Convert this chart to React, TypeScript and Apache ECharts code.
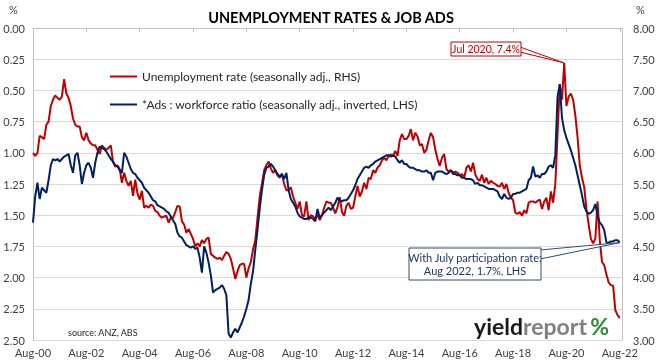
import React, { useEffect, useRef } from 'react';
import * as echarts from 'echarts';

const MONTH_NAMES = ['Jan', 'Feb', 'Mar', 'Apr', 'May', 'Jun', 'Jul', 'Aug', 'Sep', 'Oct', 'Nov', 'Dec'];
const START_YEAR = 2000;
const START_MONTH = 7; // August

// Unemployment rate, %, seasonally adjusted (RHS), monthly Aug-00 .. Aug-22
const unemploymentRate = [
  6.0, 5.95, 6.0, 6.27, 6.25, 6.22, 6.45, 6.5, 6.75, 6.85, 6.92, 6.88, // Aug-00
  6.85, 6.9, 7.18, 6.95, 6.88, 6.75, 6.55, 6.45, 6.42, 6.42, 6.25, 6.2, // Aug-01
  6.32, 6.2, 6.15, 6.12, 6.12, 6.05, 5.98, 6.12, 6.08, 6.05, 6.08, 6.12, // Aug-02
  5.85, 5.78, 5.8, 5.74, 5.52, 5.68, 5.55, 5.47, 5.55, 5.31, 5.57, 5.35, // Aug-03
  5.25, 5.39, 5.12, 5.15, 5.12, 5.17, 5.15, 5.07, 5.05, 4.99, 4.96, 4.98, // Aug-04
  4.99, 4.88, 4.96, 4.96, 5.05, 5.15, 5.14, 4.9, 4.85, 4.72, 4.78, 4.7, // Aug-05
  4.62, 4.5, 4.55, 4.5, 4.6, 4.55, 4.62, 4.64, 4.38, 4.35, 4.32, 4.3, // Aug-06
  4.32, 4.28, 4.35, 4.41, 4.38, 4.3, 4.15, 3.98, 4.1, 4.2, 4.22, 4.22, // Aug-07
  4.0, 4.15, 4.25, 4.45, 4.6, 4.95, 5.3, 5.5, 5.72, 5.8, 5.86, 5.75, // Aug-08
  5.68, 5.72, 5.64, 5.6, 5.66, 5.5, 5.4, 5.4, 5.45, 5.3, 5.2, 5.1, // Aug-09
  5.22, 5.0, 4.98, 5.22, 4.92, 5.0, 4.98, 4.94, 5.01, 4.92, 5.0, 5.12, // Aug-10
  5.22, 5.2, 5.2, 5.12, 5.03, 5.13, 5.29, 5.05, 4.99, 5.15, 5.2, 5.1, // Aug-11
  5.12, 5.3, 5.47, 5.3, 5.38, 5.52, 5.42, 5.6, 5.58, 5.72, 5.68, 5.76, // Aug-12
  5.8, 5.88, 5.92, 5.88, 5.95, 5.97, 5.95, 6.03, 5.95, 6.2, 6.3, 6.22, // Aug-13
  6.22, 6.27, 6.38, 6.2, 6.32, 6.26, 6.12, 6.14, 6.0, 6.05, 6.2, 6.32, // Aug-14
  6.25, 6.05, 5.9, 5.79, 5.92, 5.98, 5.74, 5.7, 5.72, 5.68, 5.7, 5.68, // Aug-15
  5.64, 5.66, 5.6, 5.76, 5.8, 5.7, 5.84, 5.65, 5.58, 5.55, 5.65, 5.52, // Aug-16
  5.6, 5.5, 5.55, 5.52, 5.5, 5.47, 5.46, 5.52, 5.42, 5.5, 5.36, 5.28, // Aug-17
  5.24, 5.04, 5.02, 5.05, 4.99, 5.08, 5.03, 5.2, 5.22, 5.22, 5.2, 5.23, // Aug-18
  5.25, 5.1, 5.22, 5.28, 5.08, 5.38, 5.2, 5.5, 6.3, 7.1, 6.85, 7.44, // Aug-19
  6.75, 6.9, 6.95, 6.85, 6.6, 6.25, 5.8, 5.6, 5.45, 5.1, 4.85, 4.62, // Aug-20
  4.55, 4.62, 5.22, 4.6, 4.25, 4.2, 4.05, 3.92, 3.88, 3.87, 3.48, 3.4, // Aug-21
  3.35, // Aug-22
];

// Job ads : workforce ratio, %, seasonally adjusted (LHS, inverted)
const adsRatio = [
  1.56, 1.35, 1.24, 1.37, 1.28, 1.3, 1.32, 1.22, 1.1, 1.05, 1.06, 1.05, // Aug-00
  1.07, 1.05, 1.03, 1.02, 1.01, 1.1, 1.16, 1.02, 1.0, 1.1, 1.25, 1.16, // Aug-01
  1.1, 1.08, 1.12, 1.2, 1.08, 1.0, 0.95, 0.96, 0.97, 0.99, 1.02, 1.05, // Aug-02
  1.07, 1.1, 1.11, 1.14, 1.16, 1.0, 1.03, 1.08, 1.13, 1.16, 1.17, 1.2, // Aug-03
  1.22, 1.24, 1.28, 1.3, 1.32, 1.35, 1.38, 1.39, 1.42, 1.43, 1.44, 1.45, // Aug-04
  1.47, 1.48, 1.51, 1.54, 1.57, 1.64, 1.67, 1.68, 1.71, 1.74, 1.75, 1.76, // Aug-05
  1.75, 1.77, 1.76, 1.84, 1.96, 1.75, 1.8, 1.88, 1.98, 2.12, 2.1, 2.09, // Aug-06
  2.08, 2.06, 2.09, 2.14, 2.45, 2.48, 2.44, 2.41, 2.44, 2.4, 2.36, 2.31, // Aug-07
  2.25, 2.18, 2.05, 1.95, 1.78, 1.62, 1.45, 1.3, 1.18, 1.12, 1.11, 1.09, // Aug-08
  1.11, 1.14, 1.17, 1.19, 1.17, 1.21, 1.16, 1.3, 1.37, 1.4, 1.43, 1.48, // Aug-09
  1.51, 1.52, 1.53, 1.53, 1.52, 1.52, 1.53, 1.55, 1.45, 1.52, 1.5, 1.48, // Aug-10
  1.46, 1.44, 1.46, 1.43, 1.4, 1.36, 1.38, 1.39, 1.38, 1.38, 1.36, 1.33, // Aug-11
  1.3, 1.26, 1.21, 1.18, 1.15, 1.12, 1.11, 1.12, 1.1, 1.09, 1.07, 1.06, // Aug-12
  1.05, 1.04, 1.03, 1.02, 1.02, 1.03, 1.02, 1.03, 1.06, 1.08, 1.06, 1.09, // Aug-13
  1.09, 1.11, 1.12, 1.12, 1.13, 1.14, 1.14, 1.15, 1.15, 1.14, 1.16, 1.16, // Aug-14
  1.22, 1.16, 1.15, 1.15, 1.15, 1.16, 1.17, 1.16, 1.14, 1.17, 1.17, 1.18, // Aug-15
  1.18, 1.2, 1.2, 1.21, 1.21, 1.21, 1.22, 1.25, 1.24, 1.26, 1.26, 1.27, // Aug-16
  1.28, 1.29, 1.29, 1.29, 1.3, 1.31, 1.35, 1.37, 1.33, 1.36, 1.37, 1.36, // Aug-17
  1.33, 1.33, 1.32, 1.32, 1.31, 1.3, 1.29, 1.22, 1.2, 1.11, 1.19, 1.18, // Aug-18
  1.2, 1.17, 1.17, 1.15, 1.11, 1.1, 1.12, 1.02, 0.55, 0.45, 0.72, 0.82, // Aug-19
  0.88, 0.93, 0.98, 1.04, 1.1, 1.18, 1.26, 1.34, 1.43, 1.47, 1.49, 1.48, // Aug-20
  1.46, 1.41, 1.5, 1.56, 1.58, 1.62, 1.72, 1.72, 1.71, 1.71, 1.7, 1.7, // Aug-21
  1.72, // Aug-22
];

const leftAxisRange = [0, 2.5, 0.25];
const rightAxisRange = [3, 8, 0.5];

const TITLE = 'UNEMPLOYMENT RATES & JOB ADS';
const RED_NAME = 'Unemployment rate (seasonally adj., RHS)';
const BLUE_NAME = '*Ads : workforce ratio (seasonally adj., inverted, LHS)';
const PEAK_LABEL = 'Jul 2020, 7.4%';
const LAST_LABEL = ['With July participation rate:', 'Aug 2022, 1.7%, LHS'];
const SOURCE = 'source: ANZ, ABS';

// one extra month of axis room after the last observation
const categories = Array.from({ length: unemploymentRate.length + 1 }, (_, i) => {
  const m = (START_MONTH + i) % 12;
  const y = START_YEAR + Math.floor((START_MONTH + i) / 12);
  return `${MONTH_NAMES[m]}-${String(y % 100).padStart(2, '0')}`;
});

const RED = '#C00000';
const BLUE = '#002060';
const FONT = 'Lato, "Liberation Sans", sans-serif';

export default function App() {
  const ref = useRef<HTMLDivElement>(null);

  useEffect(() => {
    const chart = echarts.init(ref.current!, null, { renderer: 'svg' });
    const every24 = (i: number) => i % 24 === 0;
    chart.setOption({
      animation: false,
      textStyle: { fontFamily: FONT },
      title: {
        text: TITLE,
        left: 'center',
        top: 5,
        textStyle: { fontFamily: FONT, fontSize: 14.5, fontWeight: 'bold', color: '#000' },
      },
      legend: {
        orient: 'vertical',
        left: 110,
        top: 69,
        padding: 0,
        icon: 'rect',
        itemWidth: 27,
        itemHeight: 2,
        itemGap: 13,
        itemTextGap: 3,
        data: [RED_NAME, BLUE_NAME],
        textStyle: { fontFamily: FONT, fontSize: 12, color: '#262626', lineHeight: 15 },
      },
      grid: { left: 33, right: 40, top: 28, bottom: 23, containLabel: false },
      xAxis: {
        type: 'category',
        data: categories,
        boundaryGap: false,
        axisLine: { lineStyle: { color: '#BFBFBF', width: 1 } },
        axisTick: { show: true, interval: every24, length: 4, lineStyle: { color: '#BFBFBF' } },
        axisLabel: { interval: every24, color: '#404040', fontSize: 11, margin: 7, fontFamily: FONT },
        splitLine: { show: false },
      },
      yAxis: [
        {
          type: 'value',
          min: leftAxisRange[0],
          max: leftAxisRange[1],
          interval: leftAxisRange[2],
          inverse: true,
          position: 'left',
          axisLine: { show: true, lineStyle: { color: '#BFBFBF' } },
          axisTick: { show: false },
          axisLabel: { formatter: (v: number) => v.toFixed(2), color: '#404040', fontSize: 11, margin: 8, fontFamily: FONT },
          splitLine: { show: true, lineStyle: { color: '#D9D9D9', width: 1 } },
        },
        {
          type: 'value',
          min: rightAxisRange[0],
          max: rightAxisRange[1],
          interval: rightAxisRange[2],
          position: 'right',
          axisLine: { show: true, lineStyle: { color: '#BFBFBF' } },
          axisTick: { show: false },
          axisLabel: { formatter: (v: number) => v.toFixed(2), color: '#404040', fontSize: 11, margin: 11, fontFamily: FONT },
          splitLine: { show: false },
        },
      ],
      series: [
        {
          name: RED_NAME,
          type: 'line',
          yAxisIndex: 1,
          data: unemploymentRate,
          symbol: 'none',
          color: RED,
          lineStyle: { color: RED, width: 2 },
        },
        {
          name: BLUE_NAME,
          type: 'line',
          yAxisIndex: 0,
          data: adsRatio,
          symbol: 'none',
          color: BLUE,
          lineStyle: { color: BLUE, width: 2 },
        },
      ],
    });

    const peakIdx = unemploymentRate.indexOf(Math.max(...unemploymentRate));
    const p1 = chart.convertToPixel({ xAxisIndex: 0, yAxisIndex: 1 }, [peakIdx, unemploymentRate[peakIdx]]) as number[];
    const lastIdx = adsRatio.length - 1;
    const p2 = chart.convertToPixel({ xAxisIndex: 0, yAxisIndex: 0 }, [lastIdx, adsRatio[lastIdx]]) as number[];

    chart.setOption({
      graphic: [
        { type: 'text', left: 9, top: 4, style: { text: '%', fontSize: 11, fill: '#404040', fontFamily: FONT } },
        { type: 'text', left: 636, top: 4, style: { text: '%', fontSize: 11, fill: '#404040', fontFamily: FONT } },
        // peak callout
        {
          type: 'polygon',
          shape: { points: [[520, 47], [520, 52], [p1[0], p1[1]]] },
          style: { fill: '#fff', stroke: RED, lineWidth: 1 },
          z: 10,
        },
        { type: 'rect', shape: { x: 451, y: 42, width: 70, height: 14 }, style: { fill: '#fff', stroke: RED, lineWidth: 1 }, z: 11 },
        {
          type: 'text',
          x: 486,
          y: 49,
          style: { text: PEAK_LABEL, fontSize: 10.5, fill: RED, fontFamily: FONT, align: 'center', verticalAlign: 'middle' },
          z: 12,
        },
        // last value callout
        {
          type: 'polygon',
          shape: { points: [[540, 250], [540, 259], [p2[0], p2[1]]] },
          style: { fill: '#fff', stroke: '#2F4A7F', lineWidth: 1 },
          z: 10,
        },
        { type: 'rect', shape: { x: 409, y: 248, width: 132, height: 32 }, style: { fill: '#fff', stroke: '#2F4A7F', lineWidth: 1 }, z: 11 },
        {
          type: 'text',
          x: 475,
          y: 264,
          style: {
            text: LAST_LABEL.join('\n'),
            fontSize: 11,
            lineHeight: 13,
            fill: '#1F3864',
            fontFamily: FONT,
            align: 'center',
            verticalAlign: 'middle',
          },
          z: 12,
        },
        {
          type: 'text',
          left: 68,
          top: 328,
          style: { text: SOURCE, fontSize: 9, fill: '#262626', fontFamily: FONT },
          z: 12,
        },
        {
          type: 'text',
          left: 474,
          top: 314,
          style: {
            text: '{a|yield}{b|report} {c|%}',
            rich: {
              a: { fontSize: 23, fontWeight: 'bold', fill: '#1a1a1a', fontFamily: FONT },
              b: { fontSize: 23, fontWeight: 'bold', fill: '#808080', fontFamily: FONT },
              c: { fontSize: 23, fontWeight: 'bold', fill: '#2E8B3A', fontFamily: FONT },
            },
          },
          z: 12,
        },
      ],
    });

    return () => chart.dispose();
  }, []);

  return <div ref={ref} style={{ position: 'fixed', left: 0, top: 0, width: 662, height: 363 }} />;
}
